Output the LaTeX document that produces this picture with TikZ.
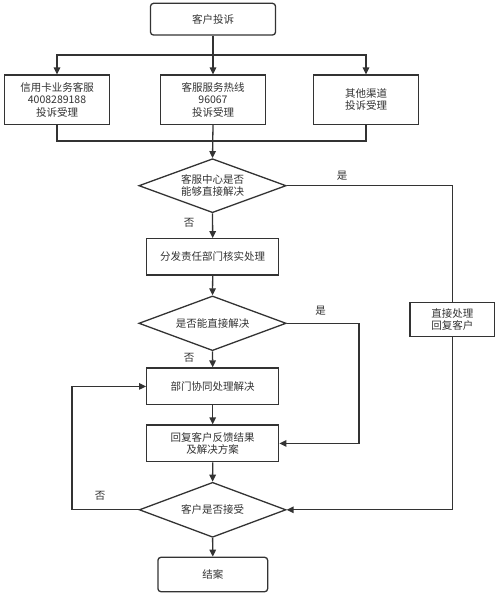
\documentclass[tikz,border=0pt]{standalone}
\usepackage{fontspec}
\setmainfont{Noto Sans CJK SC}
\usetikzlibrary{shapes.geometric,arrows.meta}
\definecolor{ln}{HTML}{333333}
\tikzset{
  box/.style={draw=ln,line width=1.3pt,rectangle,inner sep=0pt,align=center,text=ln,font=\fontsize{10.5}{12.5}\selectfont},
  rbox/.style={box,rounded corners=3pt},
  dia/.style={draw=ln,line width=1.3pt,diamond,aspect=2.7,inner sep=0pt,align=center,text=ln,font=\fontsize{10.5}{12.5}\selectfont},
  conn/.style={draw=ln,line width=1.3pt},
  arr/.style={conn,-{Triangle[length=7pt,width=6.5pt]}},
  lab/.style={text=ln,font=\fontsize{10.5}{12.5}\selectfont,inner sep=0pt}
}
\begin{document}
\begin{tikzpicture}[x=1pt,y=-1pt]
\useasboundingbox[fill=white] (0,0) rectangle (500,596);
\node[rbox,minimum width=125pt,minimum height=31.7pt] (start) at (213,19.2) {客户投诉};
\node[box,minimum width=105.4pt,minimum height=49.3pt] (b1) at (57,99.7) {信用卡业务客服\\4008289188\\投诉受理};
\node[box,minimum width=105pt,minimum height=49.3pt] (b2) at (213,99.7) {客服服务热线\\96067\\投诉受理};
\node[box,minimum width=105.4pt,minimum height=49.3pt] (b3) at (366,99.7) {其他渠道\\投诉受理};
\node[dia,minimum width=147.3pt,minimum height=54pt] (d1) at (212.5,185.7) {客服中心是否\\能够直接解决};
\node[box,minimum width=132pt,minimum height=36.3pt] (b4) at (212.7,256.9) {分发责任部门核实处理};
\node[dia,minimum width=147.3pt,minimum height=54.7pt] (d2) at (212.5,323.3) {是否能直接解决};
\node[box,minimum width=132pt,minimum height=36.7pt] (b5) at (212.7,386.4) {部门协同处理解决};
\node[box,minimum width=132pt,minimum height=36.7pt] (b6) at (212.7,443.4) {回复客户反馈结果\\及解决方案};
\node[dia,minimum width=146.7pt,minimum height=55pt] (d3) at (212.6,509.8) {客户是否接受};
\node[rbox,minimum width=109.7pt,minimum height=34.4pt] (end) at (212.8,574.5) {结案};
\node[box,minimum width=84.4pt,minimum height=34.4pt] (side) at (452.3,319.5) {直接处理\\回复客户};
\coordinate (split) at (213,55);
\coordinate (merge) at (213,141);
\coordinate (r2) at (359,323.3);
\coordinate (l3) at (72,509.8);
% top branching
\draw[arr] (start) -- (b2);
\draw[arr] (split) -| (b1.north);
\draw[arr] (split) -| (b3.north);
\draw[conn] (b1.south) |- (merge);
\draw[conn] (b3.south) |- (merge);
\draw[arr] (b2.south) -- (d1.north);
% decision 1
\draw[conn] (d1.east) -| (side.north);
\draw[arr] (side.south) |- (d3.east);
\draw[arr] (d1.south) -- (b4.north);
\draw[arr] (b4.south) -- (d2.north);
% decision 2
\draw[arr] (d2.east) -- (r2) |- (b6.east);
\draw[arr] (d2.south) -- (b5.north);
\draw[arr] (b5.south) -- (b6.north);
\draw[arr] (b6.south) -- (d3.north);
% decision 3
\draw[arr] (d3.west) -- (l3) |- (b5.west);
\draw[arr] (d3.south) -- (end.north);
% labels
\node[lab] (y1) at (342,175.5) {是};
\node[lab] (n1) at (189,223) {否};
\node[lab] (y2) at (320.7,310.7) {是};
\node[lab] (n2) at (189,358.3) {否};
\node[lab] (n3) at (100,496) {否};
\end{tikzpicture}
\end{document}
